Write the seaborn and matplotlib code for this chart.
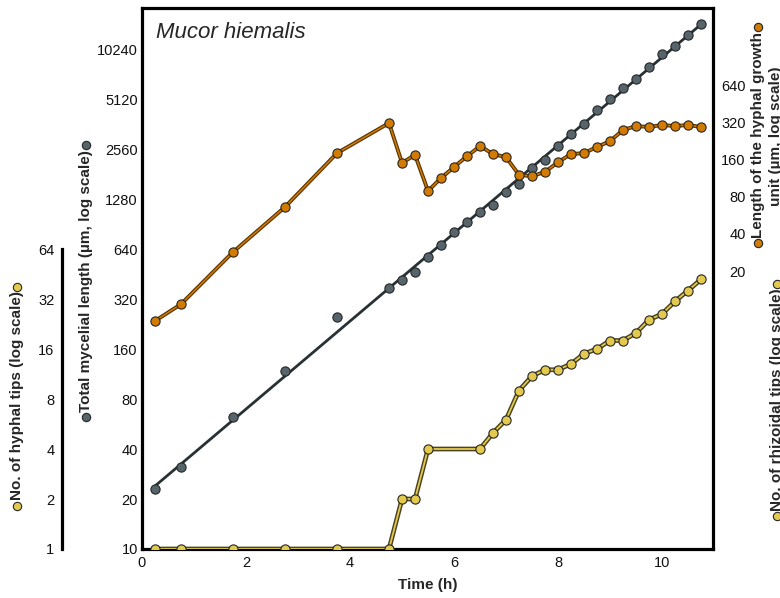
import numpy as np
import pandas as pd
import matplotlib
matplotlib.use("Agg")
import matplotlib.pyplot as plt
import matplotlib.patheffects as pe
from matplotlib.lines import Line2D
from matplotlib.ticker import FixedLocator, NullFormatter
import seaborn as sns

sns.set_style("white")
plt.rcParams['font.family'] = ['Liberation Sans', 'DejaVu Sans']

# --- data ---
time_h = [0.25, 0.75, 1.75, 2.75, 3.75, 4.75, 5.0, 5.25, 5.5, 5.75, 6.0, 6.25,
          6.5, 6.75, 7.0, 7.25, 7.5, 7.75, 8.0, 8.25, 8.5, 8.75, 9.0, 9.25,
          9.5, 9.75, 10.0, 10.25, 10.5, 10.75]
# total mycelial length (um)
mycelial_length = [23, 31, 62, 118, 250, 373, 416, 465, 573, 676, 810, 930,
                   1069, 1178, 1411, 1576, 1967, 2197, 2669, 3152, 3620, 4396,
                   5120, 5965, 6756, 7978, 9554, 10671, 12433, 14482]
# length of the hyphal growth unit (um)
hgu_length = [7.9, 10.8, 28.5, 66, 180, 315, 150, 174, 89, 113, 139, 170,
              205, 177, 167, 120, 117, 127, 152, 177, 180, 202, 225, 277,
              298, 293, 304, 298, 304, 293]
# no. of hyphal tips
tips_time = [0.25, 0.75, 1.75, 2.75, 3.75, 4.75, 5.0, 5.25, 5.5, 6.5, 6.75,
             7.0, 7.25, 7.5, 7.75, 8.0, 8.25, 8.5, 8.75, 9.0, 9.25, 9.5,
             9.75, 10.0, 10.25, 10.5, 10.75]
hyphal_tips = [1, 1, 1, 1, 1, 1, 2, 2, 4, 4, 5, 6, 9, 11, 12, 12, 13, 15, 16,
               18, 18, 20, 24, 26, 31, 36, 42]

length_ticks = [10, 20, 40, 80, 160, 320, 640, 1280, 2560, 5120, 10240]
tips_ticks = [1, 2, 4, 8, 16, 32, 64]
hgu_ticks = [20, 40, 80, 160, 320, 640]
time_ticks = [0, 2, 4, 6, 8, 10]

GRAY, GRAY_LINE = '#56656b', '#283133'
ORANGE, ORANGE_DARK = '#d27b00', '#5a3400'
YELLOW, YELLOW_DARK = '#e3ca4f', '#4a4220'
EDGE = '#262626'

main_df = pd.DataFrame({'time': time_h, 'length': mycelial_length,
                        'hgu': hgu_length})
tips_df = pd.DataFrame({'time': tips_time, 'tips': hyphal_tips})

# exponential fit of the mycelial length
slope, icpt = np.polyfit(main_df['time'], np.log2(main_df['length']), 1)
fit_df = pd.DataFrame({'time': main_df['time'],
                       'length': 2 ** (icpt + slope * main_df['time'])})

W, H = 780, 598
fig = plt.figure(figsize=(W / 100, H / 100), dpi=100)
ax = fig.add_axes([142 / W, 49 / H, 571 / W, 541 / H])
ax.set_yscale('log', base=2)
ax.set_xlim(0, 10.98)
ax.set_ylim(10, 18080)

mk = dict(s=44, edgecolor=EDGE, linewidth=0.8, legend=False, zorder=4)

# total mycelial length
sns.lineplot(data=fit_df, x='time', y='length', ax=ax, color=GRAY_LINE,
             linewidth=2.0, estimator=None, zorder=2)
sns.scatterplot(data=main_df, x='time', y='length', ax=ax, color=GRAY, **mk)

# hyphal tips on their own axis (same scale, /10)
ax_tips = ax.twinx()
ax_tips.set_yscale('log', base=2)
ax_tips.set_ylim(1, 1808)
sns.lineplot(data=tips_df, x='time', y='tips', ax=ax_tips, color=YELLOW,
             linewidth=1.3, estimator=None, zorder=2)
ax_tips.lines[-1].set_path_effects([pe.Stroke(linewidth=3.4, foreground=YELLOW_DARK),
                                    pe.Normal()])
sns.scatterplot(data=tips_df, x='time', y='tips', ax=ax_tips, color=YELLOW, **mk)

# hyphal growth unit on the right axis
ax_len = ax.twinx()
ax_len.set_yscale('log', base=2)
ax_len.set_ylim(0.113, 2686)
sns.lineplot(data=main_df, x='time', y='hgu', ax=ax_len, color=ORANGE,
             linewidth=1.1, estimator=None, zorder=2)
ax_len.lines[-1].set_path_effects([pe.Stroke(linewidth=2.8, foreground=ORANGE_DARK),
                                   pe.Normal()])
sns.scatterplot(data=main_df, x='time', y='hgu', ax=ax_len, color=ORANGE, **mk)

# --- main axis styling ---
for s in ax.spines.values():
    s.set_linewidth(2.3)
    s.set_color('black')
ax.set_yticks(length_ticks)
ax.set_yticklabels([str(v) for v in length_ticks])
ax.yaxis.set_minor_locator(FixedLocator([]))
ax.set_xticks(time_ticks)
ax.set_xticklabels([str(v) for v in time_ticks])
ax.tick_params(axis='both', length=0, labelsize=10.5, colors='#111111')
ax.tick_params(axis='y', pad=3)
ax.tick_params(axis='x', pad=5)
ax.set_xlabel('Time (h)', fontsize=11, fontweight='bold', labelpad=6)
ax.set_ylabel('')

# --- bracket axis for hyphal tips ---
for name, s in ax_tips.spines.items():
    s.set_visible(name == 'left')
sp = ax_tips.spines['left']
sp.set_position(('outward', 57.6))
sp.set_bounds(1, 64)
sp.set_linewidth(2.3)
sp.set_color('black')
ax_tips.yaxis.tick_left()
ax_tips.set_yticks(tips_ticks)
ax_tips.set_yticklabels([str(v) for v in tips_ticks])
ax_tips.yaxis.set_minor_locator(FixedLocator([1, 64]))
ax_tips.yaxis.set_minor_formatter(NullFormatter())
ax_tips.tick_params(axis='y', which='major', length=0, pad=5.5, labelsize=10.5,
                    colors='#111111')
ax_tips.tick_params(axis='y', which='minor', length=5, width=2.3,
                    direction='in', left=True, right=False)
ax_tips.set_ylabel('')
ax_tips.set_xlabel('')

# --- right axis for hyphal growth unit ---
for s in ax_len.spines.values():
    s.set_visible(False)
ax_len.set_yticks(hgu_ticks)
ax_len.set_yticklabels([str(v) for v in hgu_ticks])
ax_len.yaxis.set_minor_locator(FixedLocator([]))
ax_len.tick_params(axis='y', length=0, pad=23.5, labelsize=10.5, colors='#111111')
for t in ax_len.get_yticklabels():
    t.set_horizontalalignment('right')
ax_len.set_ylabel('')
ax_len.set_xlabel('')

ax.text(0.024, 0.954, 'Mucor hiemalis', transform=ax.transAxes, fontsize=16,
        style='italic', va='center', ha='left')

# --- rotated axis titles with coloured dots at both ends ---
lab = dict(rotation=90, ha='center', va='center', fontsize=11,
           fontweight='bold')
labels = [
    (fig.text(17 / W, 1 - 396 / H, 'No. of hyphal tips (log scale)', **lab), YELLOW),
    (fig.text(86 / W, 1 - 281 / H, 'Total mycelial length (\u00b5m, log scale)', **lab), GRAY),
    (fig.text(758 / W, 1 - 135 / H, 'Length of the hyphal growth', **lab), ORANGE),
    (fig.text(777 / W, 1 - 400 / H, 'No. of rhizoidal tips (log scale)', **lab), YELLOW),
]
fig.text(776 / W, 1 - 136 / H, 'unit (\u00b5m, log scale)', **lab)

fig.canvas.draw()
r = fig.canvas.get_renderer()
inv = fig.transFigure.inverted()
for txt, col in labels:
    bb = txt.get_window_extent(r)
    xc = (bb.x0 + bb.x1) / 2
    for yy in (bb.y0 - 5, bb.y1 + 5):
        fx, fy = inv.transform((xc, yy))
        fig.add_artist(Line2D([fx], [fy], marker='o', markersize=6.0,
                              markerfacecolor=col, markeredgecolor=EDGE,
                              markeredgewidth=0.8, transform=fig.transFigure))

fig.savefig('out.png', dpi=100)
